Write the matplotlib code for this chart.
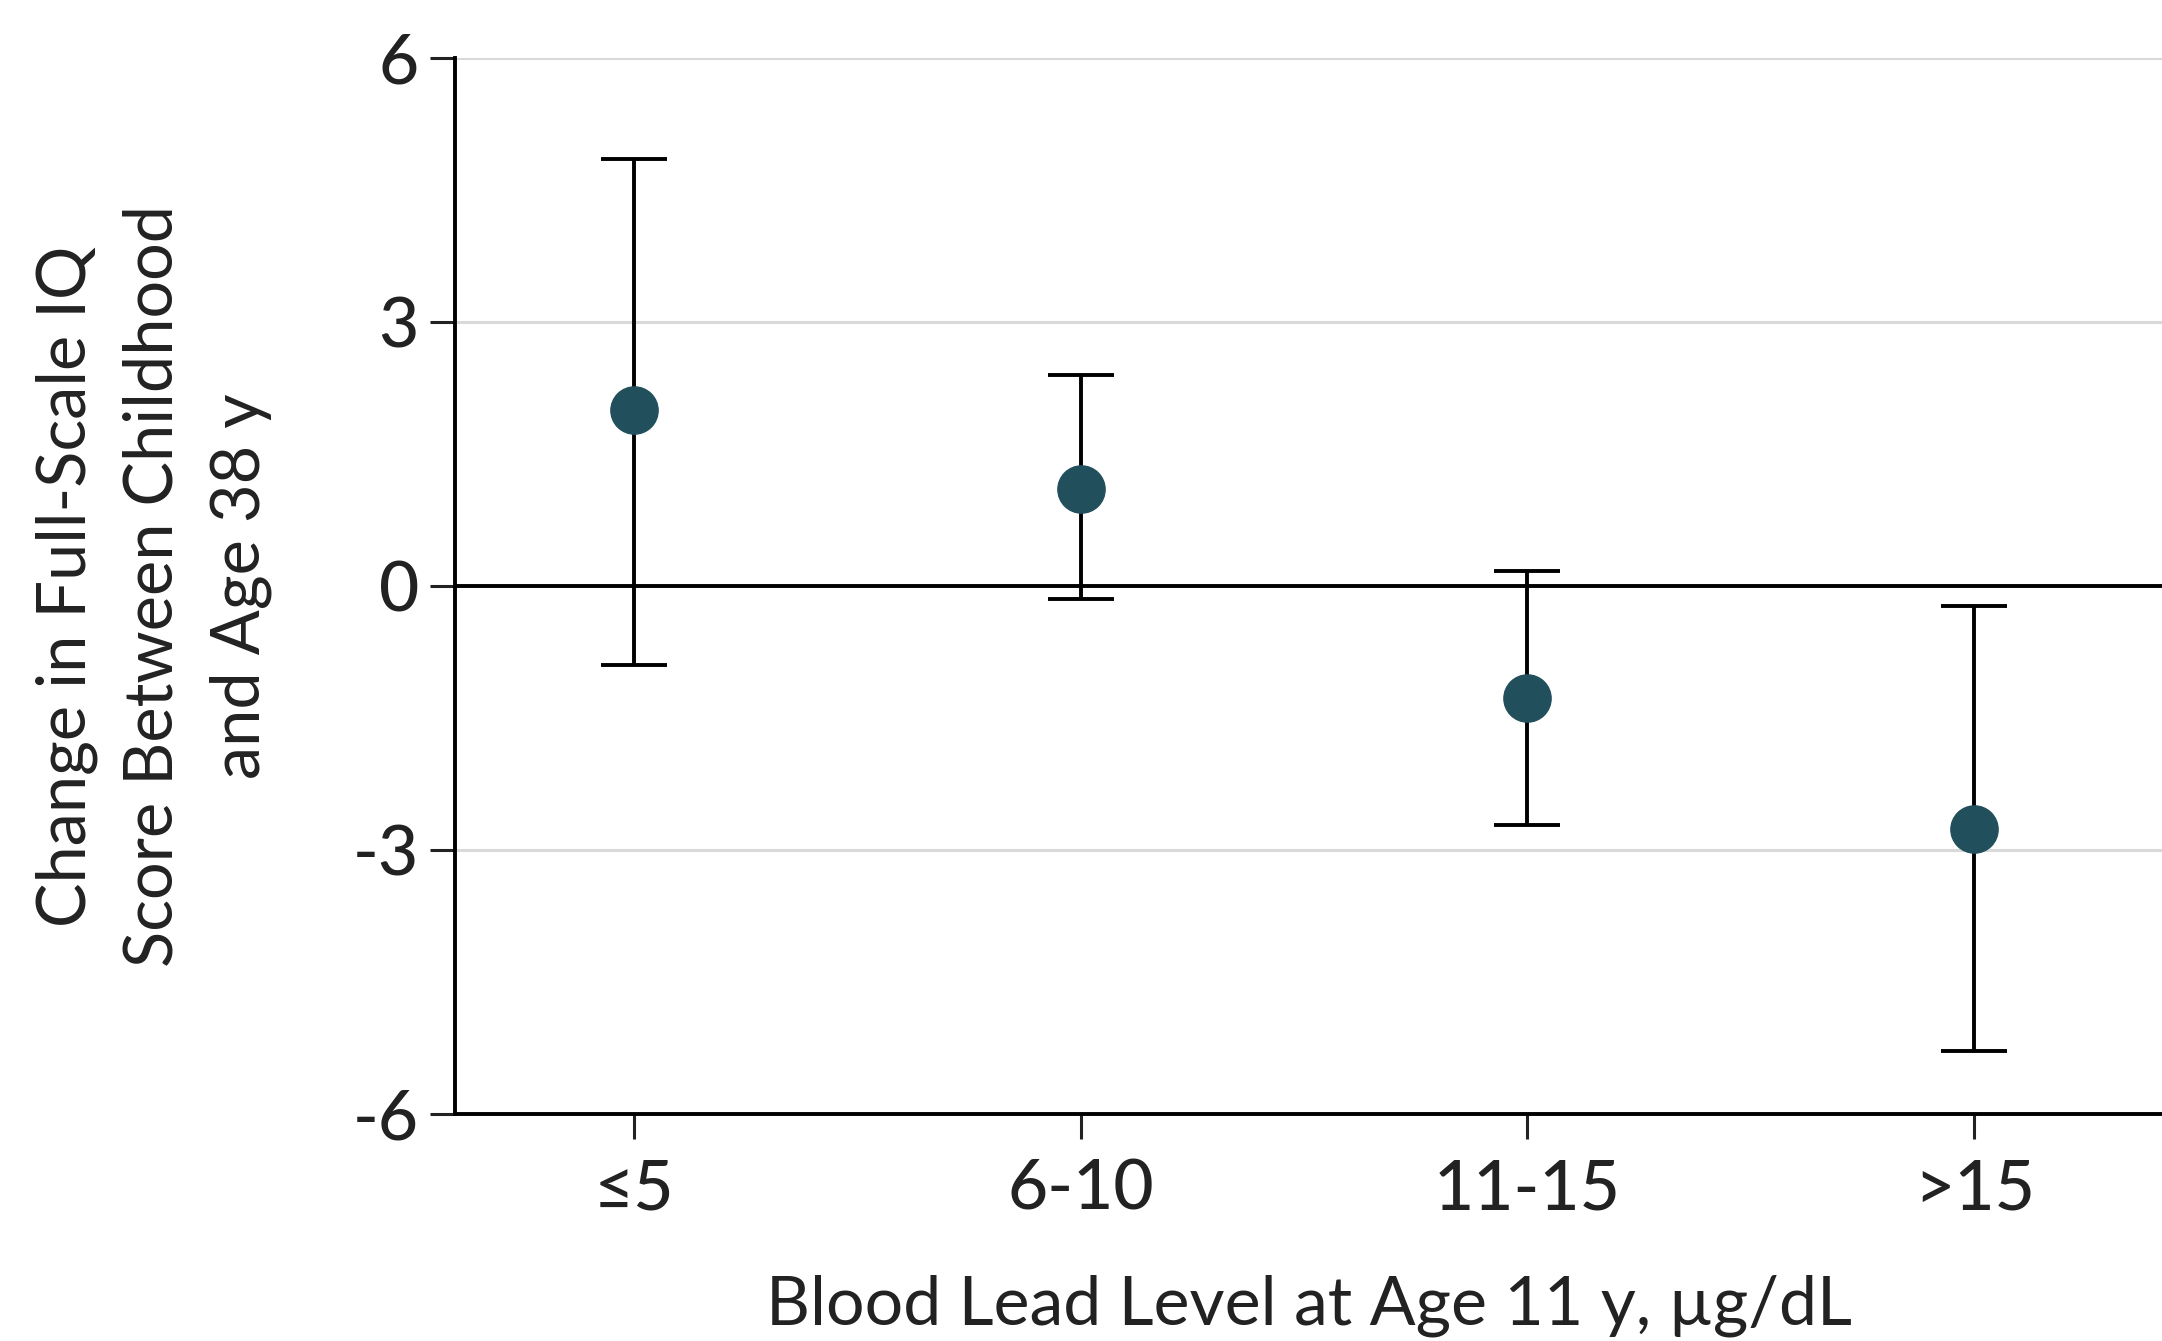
import matplotlib.pyplot as plt

# data
categories = ['≤5', '6-10', '11-15', '>15']
means = [2.0, 1.1, -1.27, -2.76]
ci_low = [-0.9, -0.15, -2.72, -5.28]
ci_high = [4.85, 2.4, 0.17, -0.23]
y_ticks = [-6, -3, 0, 3, 6]

plt.rcParams['font.family'] = ['Lato', 'DejaVu Sans']
plt.rcParams['font.weight'] = 'medium'

fig = plt.figure(figsize=(21.62, 13.41), dpi=100)
ax = fig.add_axes([0.2105, 0.1693, 0.7895, 0.7874])

x = list(range(len(categories)))
yerr = [[m - lo for m, lo in zip(means, ci_low)],
        [hi - m for m, hi in zip(means, ci_high)]]

# grid and zero line
for t in y_ticks:
    if t == 0:
        ax.axhline(0, color='black', lw=2.8, zorder=2)
    elif t != -6:
        ax.axhline(t, color='#d9d9d9', lw=2.2, zorder=1)

ax.errorbar(x, means, yerr=yerr, fmt='o', color='#214f5c', ms=34,
            ecolor='black', elinewidth=2.8, capsize=24, capthick=2.8, zorder=3)

ax.set_xlim(-0.4, 3.42)
ax.set_ylim(-6, 6)
ax.set_xticks(x)
ax.set_xticklabels(categories)
ax.set_yticks(y_ticks)
ax.set_yticklabels([str(t) for t in y_ticks])

for s in ['top', 'right']:
    ax.spines[s].set_visible(False)
for s in ['left', 'bottom']:
    ax.spines[s].set_linewidth(2.8)

ax.tick_params(axis='both', length=18, width=2.2, labelsize=50, colors='#222222', pad=14)
ax.tick_params(axis='y', pad=8)

ax.set_xlabel('Blood Lead Level at Age 11 y, µg/dL', fontsize=49, labelpad=38, color='#222222')
ax.set_ylabel('Change in Full-Scale IQ\nScore Between Childhood\nand Age 38 y',
              fontsize=48, labelpad=58, color='#222222', linespacing=1.5)

fig.savefig('out.png', dpi=100)
